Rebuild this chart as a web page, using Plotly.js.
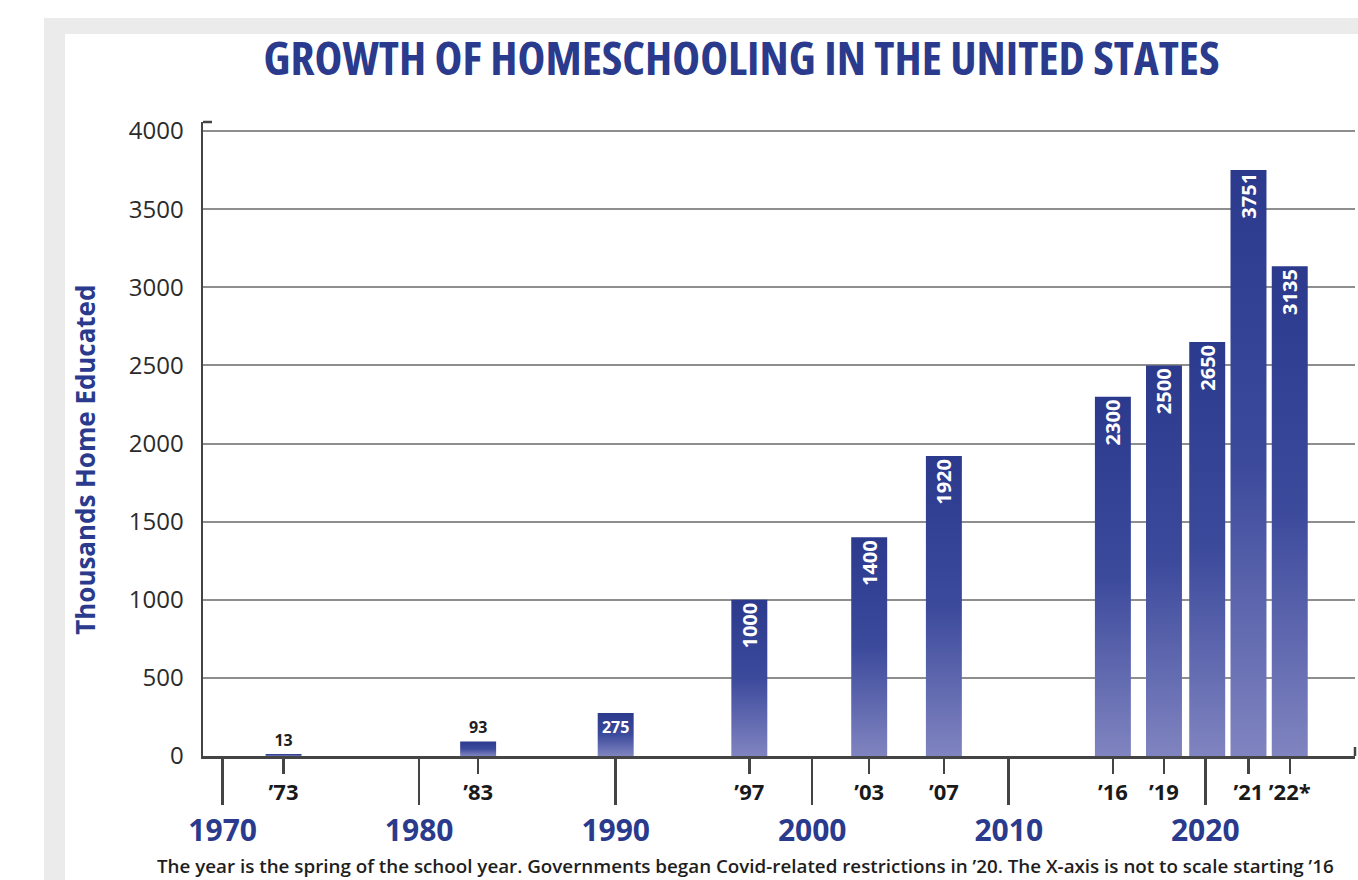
<!DOCTYPE html>
<html><head><meta charset="utf-8">
<script src="https://cdn.plot.ly/plotly-3.0.1.min.js"></script>
<style>
html,body{margin:0;padding:0;background:#fff;width:1358px;height:880px;overflow:hidden;}
#bg1{position:absolute;left:44px;top:18px;right:0;bottom:0;background:#ebebeb;}
#bg2{position:absolute;left:65px;top:34px;right:0;bottom:0;background:#fff;}
#chart{position:absolute;left:0;top:0;width:1358px;height:880px;}
#chart .gtitle{font-stretch:75%;}
</style></head><body>
<div id="bg1"></div><div id="bg2"></div><div id="chart"></div>
<script>
// ---- data ----
const years = [1973, 1983, 1990, 1997, 2003, 2007, 2016, 2019, 2020, 2021, 2022];
// position of each bar on the (not-to-scale after '16) time axis
const axisPos = [1973.1, 1983.0, 1990.0, 1996.8, 2002.9, 2006.7, 2015.3, 2017.9, 2020.1, 2022.2, 2024.3];
const values = [13, 93, 275, 1000, 1400, 1920, 2300, 2500, 2650, 3751, 3135];
const yearLabels = ["\u201973", "\u201983", "", "\u201997", "\u201903", "\u201907", "\u201916", "\u201919", "", "\u201921", "\u201922*"];
const decadeTicks = [1970, 1980, 1990, 2000, 2010, 2020];
const yTicks = [0, 500, 1000, 1500, 2000, 2500, 3000, 3500, 4000];

const BLUE = '#2a3a8c';
const FONT = 'Open Sans, Noto Sans, sans-serif';
const X_RANGE = [1969.0, 2027.62];

function idxWhere(pred) { return values.map((v, i) => i).filter(i => pred(values[i])); }
function barTrace(idx, extra) {
  return Object.assign({
    type: 'bar',
    x: idx.map(i => axisPos[i]),
    y: idx.map(i => values[i]),
    text: idx.map(i => String(values[i])),
    width: 1.83,
    marker: { color: '#3a4898', line: { width: 0 } },
    hoverinfo: 'skip',
    cliponaxis: false,
    constraintext: 'none'
  }, extra);
}

const traces = [
  barTrace(idxWhere(v => v < 100), {
    textposition: 'outside', textangle: 0,
    outsidetextfont: { family: FONT, size: 16, weight: 700, color: '#1e1e1e' }
  }),
  barTrace(idxWhere(v => v >= 100 && v < 500), {
    textposition: 'inside', insidetextanchor: 'end', textangle: 0,
    insidetextfont: { family: FONT, size: 16, weight: 700, color: '#ffffff' }
  }),
  barTrace(idxWhere(v => v >= 500), {
    xaxis: 'x2',
    textposition: 'inside', insidetextanchor: 'end', textangle: -90,
    insidetextfont: { family: FONT, size: 20, weight: 700, color: '#ffffff' }
  })
];

const labIdx = yearLabels.map((t, i) => i).filter(i => yearLabels[i] !== '');

const layout = {
  width: 1358, height: 880,
  margin: { l: 203, r: 3, t: 122, b: 124, pad: 0 },
  paper_bgcolor: 'rgba(0,0,0,0)', plot_bgcolor: 'rgba(0,0,0,0)',
  showlegend: false, barmode: 'overlay',
  title: {
    text: 'GROWTH OF HOMESCHOOLING IN THE UNITED STATES',
    font: { family: FONT, size: 47, weight: 700, color: BLUE },
    x: 741.5 / 1358, xref: 'container', xanchor: 'center',
    y: 1 - 59 / 880, yref: 'container', yanchor: 'middle'
  },
  xaxis: {
    range: X_RANGE, autorange: false, tickmode: 'array',
    tickvals: decadeTicks, ticktext: decadeTicks.map(String),
    ticks: 'outside', ticklen: 46, tickwidth: 2.5, tickcolor: '#444',
    showline: true, linecolor: '#444', linewidth: 2.5,
    showgrid: false, zeroline: false, fixedrange: true,
    tickfont: { family: FONT, size: 30, weight: 700, color: BLUE }
  },
  xaxis2: {
    overlaying: 'x', anchor: 'y', side: 'bottom',
    range: X_RANGE, autorange: false, tickmode: 'array',
    tickvals: labIdx.map(i => axisPos[i]), ticktext: labIdx.map(i => yearLabels[i]),
    ticks: 'outside', ticklen: 17, tickwidth: 2.5, tickcolor: '#444',
    showline: false, showgrid: false, zeroline: false, fixedrange: true,
    tickfont: { family: FONT, size: 22, weight: 700, color: '#1a1a1a' }
  },
  yaxis: {
    range: [0, 4057.6], autorange: false, tickmode: 'array', tickvals: yTicks,
    ticks: '', showline: true, linecolor: '#444', linewidth: 2.5,
    showgrid: true, gridcolor: '#8e8e8e', gridwidth: 2, zeroline: false, fixedrange: true,
    tickfont: { family: FONT, size: 24, color: '#2b2b2b' },
    ticklabelstandoff: 12
  },
  annotations: [
    {
      text: 'Thousands Home Educated', textangle: -90, showarrow: false,
      xref: 'paper', yref: 'paper', x: (84 - 203) / 1152, y: (756 - 460) / 634,
      xanchor: 'center', yanchor: 'middle',
      font: { family: FONT, size: 27, weight: 700, color: BLUE }
    },
    {
      text: 'The year is the spring of the school year. Governments began Covid-related restrictions in \u201920. The X-axis is not to scale starting \u201916',
      showarrow: false, xref: 'paper', yref: 'paper',
      x: (155 - 203) / 1152, y: (756 - 866) / 634, xanchor: 'left', yanchor: 'middle',
      font: { family: FONT, size: 18.8, weight: 600, color: '#1e1e1e' }
    }
  ],
  shapes: [
    { type: 'line', xref: 'paper', yref: 'paper', x0: 0, x1: 9 / 1152, y0: 1, y1: 1, line: { color: '#444', width: 2.5 } },
    { type: 'line', xref: 'paper', yref: 'paper', x0: 1, x1: 1, y0: 0, y1: 9 / 634, line: { color: '#444', width: 2.5 } }
  ]
};

Plotly.newPlot('chart', traces, layout, { staticPlot: true, displayModeBar: false }).then(gd => {
  const ns = 'http://www.w3.org/2000/svg';
  const svg = gd.querySelector('.main-svg');
  const defs = svg.querySelector('defs');
  const lg = document.createElementNS(ns, 'linearGradient');
  lg.setAttribute('id', 'barGrad');
  lg.setAttribute('x1', '0'); lg.setAttribute('y1', '0');
  lg.setAttribute('x2', '0'); lg.setAttribute('y2', '1');
  [['0%', '#2b3a8d'], ['50%', '#3c4a9c'], ['100%', '#8084c0']].forEach(([o, c]) => {
    const s = document.createElementNS(ns, 'stop');
    s.setAttribute('offset', o); s.setAttribute('stop-color', c);
    lg.appendChild(s);
  });
  defs.appendChild(lg);
  gd.querySelectorAll('.barlayer .point path').forEach(p => { p.style.fill = 'url(#barGrad)'; });

  function fit(el, target) {
    if (!el) return;
    const len = el.getComputedTextLength();
    if (len > target * 1.02) {
      el.setAttribute('textLength', target);
      el.setAttribute('lengthAdjust', 'spacingAndGlyphs');
    }
  }
  fit(gd.querySelector('.gtitle'), 947);
  const ann = gd.querySelectorAll('.annotation-text');
  fit(ann[0], 350);
});
</script>
</body></html>
